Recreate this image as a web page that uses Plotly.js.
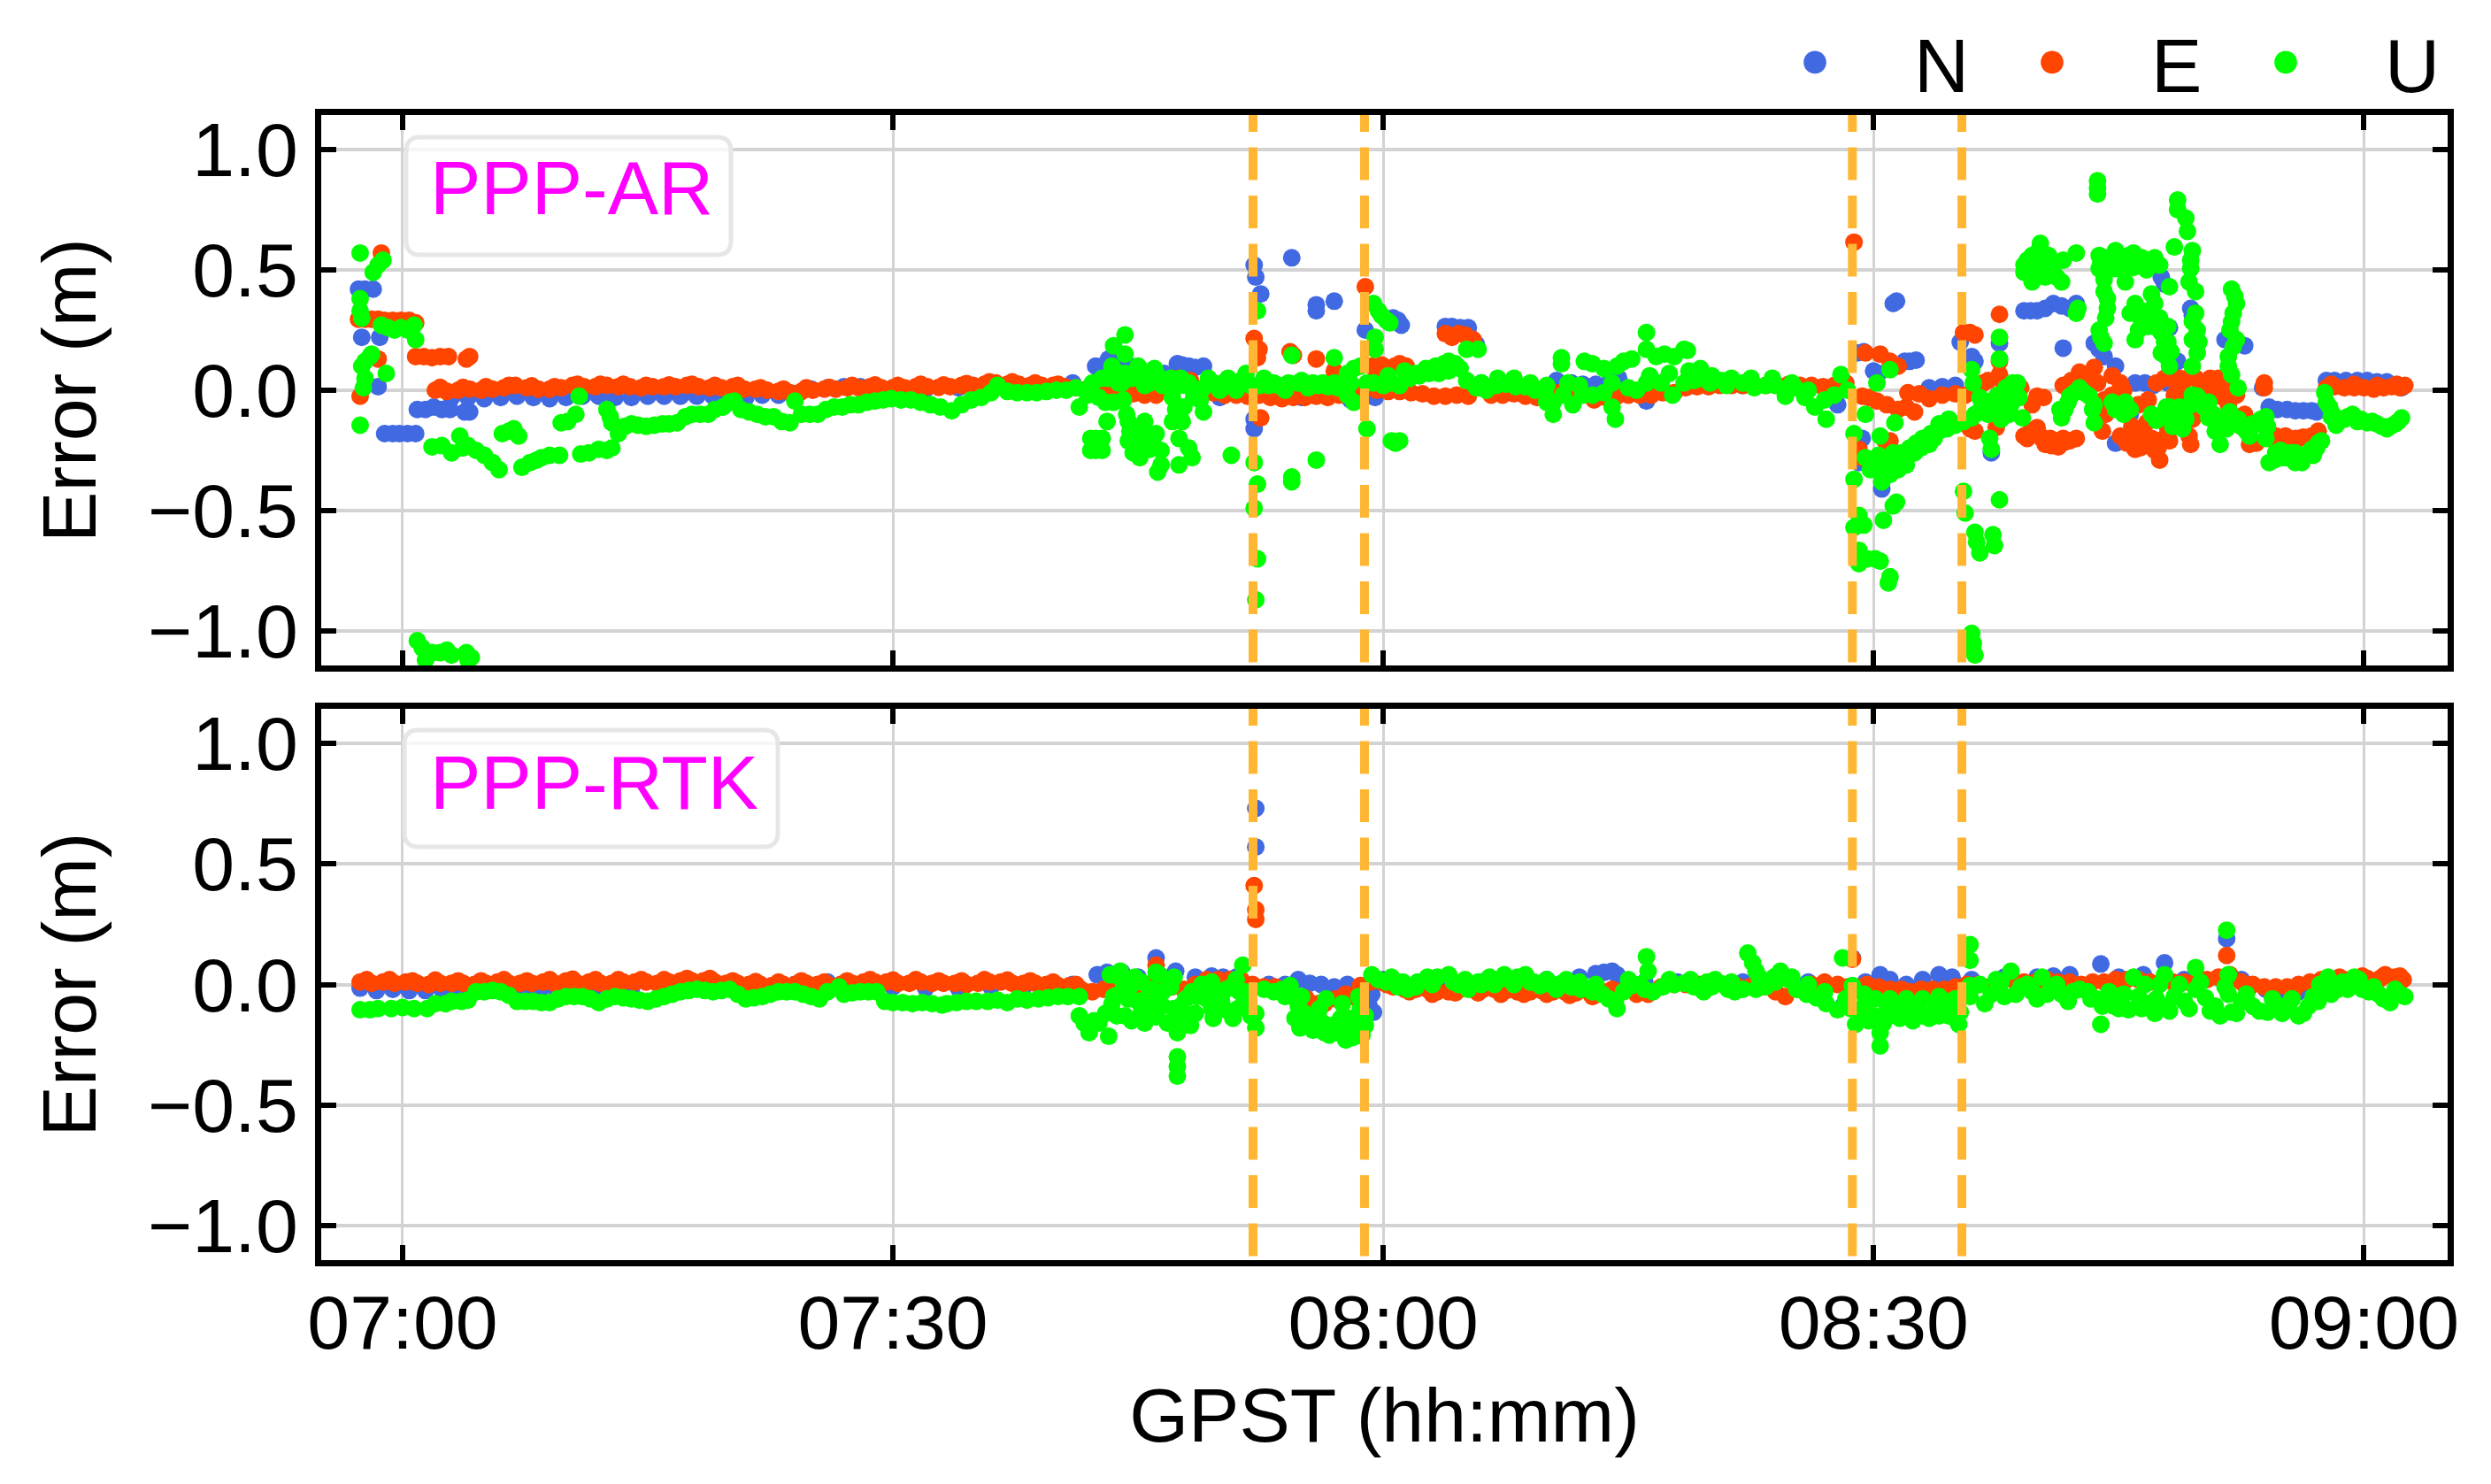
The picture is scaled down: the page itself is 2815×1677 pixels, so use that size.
<!DOCTYPE html>
<html><head><meta charset="utf-8">
<script src="https://cdn.plot.ly/plotly-3.0.1.min.js"></script>
<style>html,body{margin:0;padding:0;background:#fff}</style></head>
<body><div id="chart" style="width:2815px;height:1677px"></div>
<script>
// time is minutes after 07:00, errors are metres: [minute, error]
const tickMinutes=[0,30,60,90,120];
const tickLabels=['07:00','07:30','08:00','08:30','09:00'];
const errorTicks=[-1,-0.5,0,0.5,1];
const eventMinutes=[52.03,58.85,88.7,95.4];
const seriesNames=['N','E','U'];
const seriesColors=['#4169E1','#FF4500','#00FF00'];

const arN=[[-2.7,.42],[-2.3,.42],[-1.8,.42],[-2.5,.22],[-1.4,.22],[-1.5,.015],[-1.1,-.18],[-.6,-.18],[-.2,-.18],[.3,-.18],[.8,-.18],[.9,-.08],[1.4,-.08],[1.9,-.07],[2.4,-.08],[2.9,-.08],[3.8,-.09],[4.1,-.09],
[3,-.03],[4,-.03],[5,-.035],[6,-.03],[7,-.025],[8,-.03],[9,-.035],[10,-.03],[11,-.025],[12,-.025],[13,-.03],[14,-.03],[15,-.025],[16,-.025],[17,-.025],[18,-.025],[19,-.025],[20,-.03],[21,-.03],[22,-.02],[23,-.02],[24,-.015],[25,.005],[26,.01],[27,.015],[28,.015],[29,.015],[30,.01],[32,.005],[34,.01],[36,.01],[38,.015],[40,.02],[41,.03],
[42.4,.1],[42.8,.1],[43.2,.13],[43.6,.12],[44.5,.1],[45,.09],[46.6,.07],[47.4,.11],[47.7,.105],[48.1,.1],[48.5,.095],[49,.1],
[50,-.03],[52.1,.52],[52.2,.47],[52.5,.4],[54.4,.55],[55.9,.355],[55.9,.33],[57,.37],[52.1,-.16],[52.1,-.12],[58.9,.25],[60.6,.3],[60.9,.29],[61.1,.27],[63.8,.265],[64.2,.265],[64.7,.26],[65.2,.26],[65.7,.19],[55,-.03],[58,-.04],[59.5,-.03],
[66,.03],[68,.02],[70.6,.04],[71.5,.03],[72.2,.025],[73,.025],[73.8,.03],[74.4,.05],[76.1,-.045],[77,.03],[79,.02],[82,.02],[85,.02],[87.8,-.06],
[89,.155],[89.4,.16],[90,.08],[90.3,.07],[91.2,.36],[91.4,.37],[91.9,.12],[92.2,.12],[92.6,.125],[93.4,.01],[94.2,.015],[95,.02],[95.3,.2],[96,.14],[96.2,.12],[89.3,-.2],[89.1,-.3],[90.5,-.41],[97.2,-.26],[97.7,.195],
[99.2,.33],[99.6,.33],[100,.33],[100.5,.34],[101,.36],[101.5,.35],[102,.34],[102.4,.36],[101.6,.175],[103.5,.195],[103.8,.17],[104.1,.14],[104.8,.1],[106,.03],[106.6,.03],[107.1,.02],[107.6,.47],[107.8,.44],[108.1,.26],[109.4,.34],[109.5,.31],[112.7,.185],[111.5,.21],[111.9,.2],[108.6,.12],[105.7,-.1],[104.8,-.22],[108,.03],[110,.02],[113.8,.01],[114.2,-.07],[114.7,-.08],[115.3,-.08],[115.8,-.085],[116.3,-.085],[116.8,-.085],[117.1,-.09],[117.7,.04],[118.2,.04],[118.9,.04],[119.6,.04],[120.2,.04],[120.8,.035],[121.4,.035],[122.3,.01]];

const arE=[[-2.6,-.025],[-2.7,.295],[-2.3,.295],[-1.9,.295],[-1.5,.295],[-1.3,.57],[-1.5,.13],[-1.1,.29],[-.6,.29],[-.1,.29],[.4,.29],[.8,.28],[.8,.14],[1.3,.14],[1.8,.135],[2.3,.14],[2.8,.14],[3.9,.13],[4.1,.14],
[2,0],[2.7,-.005],[3.4,0],[4.1,.005],[4.8,0],[5.5,.005],[6.2,.01],[6.9,.02],[7.6,.01],[8.3,.005],[9,.005],[9.7,.01],[10.4,.02],[11.1,.015],[11.8,.015],[12.5,.02],[13.2,.015],[13.9,.015],[14.6,.01],[15.3,.015],[16,.015],[16.7,.015],[17.4,.02],[18.1,.015],[18.8,.01],[19.5,.01],[20.2,.015],[20.9,.005],[21.6,.005],[22.3,.0],[23,-.005],[23.7,-.01],[24.4,-.005],[25.1,0],[25.8,.005],[26.5,.005],[27.2,.01],[27.9,.01],[28.6,.015],[29.3,.01],[30,.01],[30.7,.01],[31.4,.015],[32.1,.015],[32.8,.012],[33.5,.015],[34.2,.02],[34.9,.02],[35.6,.025],[36.3,.03],[37,.025],[37.7,.025],[38.4,.02],[39.1,.02],[39.8,.02],[40.5,.015],[41.2,.01],[41.9,.005],[42.6,.01],[43.3,0],[44,-.01],[44.7,-.015],[45.4,-.02],[46.1,-.02],[46.8,.03],[47.5,.05],[48.2,.04],[48.9,-.005],[49.6,-.01],[50.3,-.02],[51,-.02],[51.7,-.025],[52.1,.215],[52.3,.135],[52.4,.17],[52.5,-.115],[54.3,.16],[54.5,.145],[55.9,.13],[57,.08],[58.9,.43],[52.4,-.02],[53.1,-.03],[53.8,-.035],[54.5,-.03],[55.2,-.03],[55.9,-.025],[56.6,-.03],[57.3,-.02],[58,-.01],[58.7,.01],[59.3,.1],[59.6,.06],[59.9,.105],[60.3,.09],[60.7,.1],[61,.11],[61.4,.1],[59.6,0],[60.3,-.005],[61,-.005],[61.7,-.01],[62.4,-.015],[63.1,-.025],[63.8,-.025],[64.5,-.02],[65.2,-.025],[63.8,.235],[64.2,.22],[64.6,.235],[65,.23],[65.5,.21],[65.9,.01],[66.6,-.02],[67.3,-.02],[68,-.015],[68.7,-.025],[69.4,-.03],[70.1,-.025],[70.8,-.01],[71.5,-.01],[72.2,-.015],[72.9,-.04],[73.6,-.03],[74.3,-.025],[75,-.02],[75.7,-.02],[76.4,-.02],[77.1,-.01],[77.8,-.01],[78.5,.01],[79.2,.015],[79.9,.015],[80.6,.02],[81.3,.02],[82,.02],[82.7,.02],[83.4,.02],[84.1,.02],[84.8,.025],[85.5,.02],[86.2,.02],[86.9,.015],[87.6,.02],[88.3,.03],
[88.8,.615],[89.5,.155],[90.4,.15],[91,.12],[91.5,.1],[89.3,-.025],[89.7,-.03],[90.2,-.045],[90.8,-.06],[91.5,-.08],[92,-.07],[92.5,-.09],[92.1,-.01],[92.8,-.015],[93.4,-.035],[94.2,-.02],[95,-.015],[95.6,-.02],[89.1,-.245],[89.3,-.28],[91,-.21],[90.7,-.21],[95.5,.24],[95.9,.24],[96.2,.23],[97.7,.315],[97.7,.12],[97.7,.065],[96.7,.03],[96.2,-.17],[95.9,-.16],[97.5,-.155],[97,.04],[98,.02],[99,.01],[99.7,-.06],[100,-.025],[100.4,-.03],
[99.2,-.19],[99.6,-.17],[100,-.155],[100.3,-.2],[100.5,-.225],[100.9,-.23],[101.3,-.235],[101.7,-.215],[102.4,-.2],[101.6,.02],[102.1,.04],[102.6,.075],[103,.05],[103.5,.095],[103.7,.03],[104,-.17],[104.1,-.04],[104.6,.06],[105.1,.03],[105.1,-.19],[105.5,-.22],[106,-.245],[106.4,-.17],[106.7,-.135],[107.2,-.25],[107.5,-.29],[107.8,-.2],[108.1,-.21],[108.4,-.15],[109.4,-.225],[109.3,-.19],[107.3,.03],[107.8,.05],[108.2,.05],[108.7,.05],[109.2,.05],[109.7,.05],[106.2,-.06],[106.8,-.04],[108.4,-.02],[109,-.07],[110.2,.03],[110.6,.05],[111.1,.05],[111.5,.05],[111.7,-.06],[112.2,-.02],[112.7,-.1],[113,-.225],[113.4,-.22],[113.9,.01],[113.9,.03],[114.2,-.2],[114.6,-.19],[115.2,-.19],[115.8,-.2],[116.3,-.195],[116.8,-.19],[117.2,-.17],
[117.7,.01],[118.2,.015],[118.8,.01],[119.4,.01],[120,.01],[120.6,.005],[121.2,.01],[121.7,.015],[122.2,.01],[122.5,.02],
[99.4,-.2],[100.2,-.19],[100.8,-.2],[101.6,-.2],[102,-.21],[104.2,-.1],[104.6,-.02],[105,-.05],[105.3,.0],[105.8,-.15],[106,-.2],[106.3,-.24],[106.6,-.22],[107,-.2],[107.4,-.24],[108,-.16],[108.5,-.05],[108.8,0],[109.2,-.03],[109.5,-.12],[110,0],[110.5,-.03],[111,0],[111.4,-.03],[112,.0],[112.5,-.15],[114.9,-.2],[115.5,-.21],[116,-.2],[116.6,-.2],
[2.3,.012],[3.7,.012],[5.1,.015],[6.5,.02],[7.9,.018],[9.3,.015],[10.7,.025],[12.1,.025],[13.5,.025],[14.9,.02],[16.3,.022],[17.7,.025],[19.1,.02],[20.5,.02],[21.9,.01],[23.3,.005],[24.7,.01],[26.1,.012],[27.5,.02],[28.9,.022],[30.3,.02],[31.7,.025],[33.1,.022],[34.5,.028],[35.9,.035],[37.3,.035],[38.7,.03],[40.1,.025],[118,.025],[119.4,.025],[120.8,.02],[122,.025]];

const arU=[[-2.6,.57],[-1.8,.49],[-1.5,.52],[-1.2,.54],[-2.6,.38],[-2.6,.33],[-2.5,.3],[-2.5,.1],[-2.3,.12],[-2,.14],[-1.9,.15],[-2.3,.05],[-2.4,.01],[-2.6,-.145],[-1,.07],[-1.3,.27],[-.9,.26],[-.5,.25],[-.1,.26],[.3,.25],[.7,.27],[.8,.21],
[.9,-1.04],[1.2,-1.07],[1.4,-1.12],[1.8,-1.09],[2.3,-1.09],[2.7,-1.08],[3,-1.1],[3.9,-1.09],[4,-1.12],[4.2,-1.11],
[1.8,-.235],[2.4,-.23],[3,-.26],[3.5,-.19],[3.7,-.24],[4,-.23],[4.5,-.25],[5,-.27],[5.5,-.3],[5.9,-.33],[6.1,-.18],[6.5,-.17],[6.8,-.16],[7.1,-.19],[7.3,-.32],[7.8,-.3],[8.2,-.29],[8.5,-.28],[9,-.27],[9.6,-.27],[9.7,-.135],[10.1,-.13],[10.6,-.1],[10.8,-.025],[10.9,-.265],[11.4,-.26],[12,-.245],[12.5,-.25],[12.8,-.24],[12.5,-.08],[12.7,-.11],[12.8,-.135],[13.2,-.18],[13.6,-.15],[14,-.14],[14.4,-.145],[14.9,-.15],[15.4,-.145],[15.9,-.14],[16.3,-.14],[16.8,-.135],[17.3,-.11],[17.7,-.1],[18.2,-.1],[18.7,-.1],[19.1,-.08],[19.6,-.07],[20,-.05],[20.3,-.045],[20.7,-.08],[21.2,-.09],[21.7,-.1],[22.2,-.11],[22.7,-.11],[23.2,-.13],[23.7,-.135],[24,-.045],[24.4,-.1],[24.9,-.1],[25.4,-.1],[25.9,-.08],[26.4,-.07],[26.9,-.07],[27.4,-.06],[27.9,-.06],[28.4,-.05],[28.9,-.045],[29.4,-.04],[29.9,-.035],[30.5,-.04],[31.1,-.04],[31.7,-.05],[32.3,-.06],[32.9,-.07],[33.6,-.085],[34.2,-.06],[34.8,-.04],[35.4,-.03],[36,-.01],[36.4,.02],[37,-.005],[37.6,-.01],[38.2,-.01],[38.8,-.01],[39.4,-.005],[40,0],[40.6,0],[41.2,.01],[41.4,-.07],[41.9,-.02],[42.1,-.2],[42.1,-.25],[42.8,-.2],[42.8,-.25],[42.4,-.2],[42.4,-.25],[42.6,-.03],[43.1,-.13],[43.2,.05],[43.5,.185],[43.5,-.05],[43.6,.08],[44.2,.23],[44.2,.15],[44,.03],[44.1,-.04],[44.3,-.1],[44.5,-.17],[44.7,-.21],[44.9,.08],[45,-.2],[45.4,-.13],[45.4,.02],[45.6,.05],[46.1,-.18],[45.7,-.245],[46.4,-.31],[46.2,-.34],[46.2,.06],[46.8,.04],[47.1,-.13],[47.1,-.03],[47.5,-.2],[47.5,-.31],[47.6,.05],[47.8,-.07],[48.1,-.24],[48.1,.03],[48.3,-.28],[48.6,-.03],[49,-.09],[49,.01],[49.6,.03],[50.2,.03],[50.7,-.27],[50.8,.02],[51.3,.04],[51.6,.07],[51.9,.02],[52.1,-.3],[52.3,-.39],[52.4,.02],[52.3,.33],[52.3,-.7],[52.2,-.87],[52.1,-.49],[53,.02],[53.6,.02],[54.2,.03],[54.4,.145],[54.4,-.38],[54.4,-.36],[54.8,.03],[55.4,.01],[55.9,-.29],[56,.02],[56.6,.015],[57,.135],[57.2,.01],[57.8,-.02],[58.2,-.05],[58.2,.09],[57.8,.07],[58.6,.1],[59,-.16],[59.4,.36],[59.7,.33],[59.9,.31],[60.2,.29],[60.4,.28],[59.5,.22],[59.5,.17],[59.4,.03],[60,.02],[60.75,-.22],[60.5,-.21],[61,-.21],[60.5,.03],[61,.02],[61.6,.05],[62.2,.06],[62.8,.07],[63.4,.07],[64,.12],[64,.08],[64.7,.09],[65.1,.17],[65.1,.04],[65.8,.17],[65.7,.01],[66.3,.0],[66.9,.02],[67.5,.025],[68.1,.015],[68.7,.015],[69.3,.0],[69.9,-.01],[70.4,-.1],[70.4,-.05],[70.9,.135],[70.9,.11],[71,-.02],[71.6,-.06],[72.3,.12],[72.2,-.02],[72.8,.11],[72.8,-.02],[73.5,.09],[73.5,-.01],[74.2,-.12],[74,-.07],[74.3,.1],[74.7,.12],[75.2,.13],[75.5,.0],[76.1,.24],[76.1,.17],[76.1,.03],[76.7,.14],[77.2,.15],[77,.03],[77.8,.14],[77.7,-.02],[78.4,.17],[78.4,.03],[78.6,.165],[79,.04],[79.5,.05],[80.1,.06],[80.7,.04],[81.3,.05],[82,.03],[82.7,.01],[83.4,.02],[84,.02],[84.6,-.025],[85.2,.01],[85.8,-.03],[86.4,-.07],[87.1,-.12],[87.6,-.02],[88,.065],[88.4,0],
[88.8,-.18],[88.8,-.37],[89.1,-.52],[88.8,-.57],[89.1,-.665],[89.1,-.72],[90.1,-.7],[90.4,-.71],[91,-.775],[90.9,-.8],[90.6,-.54],[91.2,-.48],[91.4,-.465],[89.5,-.1],[90.4,-.19],[90.2,.03],[91,.085],[91.3,-.135],[89.6,-.7],[89.4,-.56],[89.5,-.28],
[90,-.3],[90.4,-.33],[90.7,-.345],[91.1,-.32],[91.5,-.3],[92,-.28],[92.5,-.26],[92.9,-.24],[93.4,-.225],[93.7,-.2],[94,-.17],[94.5,-.16],[95,-.145],[95.5,-.13],[96,-.115],[95.5,-.42],[95.6,-.51],[96.2,-.59],[96.5,-.675],[96.3,-.63],[97.3,-.6],[97.4,-.645],[97.7,-.455],[97.2,-.245],[97.1,-.2],[97.7,.22],[97.7,.13],[96,.085],[96.1,.03],[96,-1.01],[96.1,-1.085],[96.2,-1.1],[96.1,-1.05],[96.2,-.1],[96.6,-.07],[97.2,-.045],[97.6,-.02],[98.1,.01],[98.5,.03],[98.8,.03],[99.1,-.115],[98.9,-.03],
[99.2,.52],[99.2,.49],[99.5,.5],[99.7,.56],[99.7,.45],[100,.55],[100.2,.61],[100.3,.52],[100.5,.47],[100.7,.56],[101,.49],[101.5,.45],[101.6,.54],[102.4,.57],[102.4,.32],[102.5,.34],[103.7,.87],[103.7,.815],[103.7,.84],
[103.8,.56],[103.8,.505],[104.3,.55],[104.3,.5],[104.8,.58],[104.8,.505],[105.3,.54],[105.9,.57],[105.9,.51],[106.4,.55],[106.8,.54],[107.2,.55],[107.5,.52],[108.4,.595],[104.1,.46],[104.1,.41],[104.3,.34],[104.3,.38],[103.8,.25],[104.1,.195],[103.9,.22],[105.4,.45],[106,.36],[105.7,.32],[106.4,.285],[106,.21],[106.2,.25],[106.8,.265],[107,.4],[107.2,.36],[107.5,.3],[107.6,.24],[108,.265],[108.1,.43],[108,.2],[107.6,.155],[108.1,.1],[107.9,.14],[108.6,.79],[108.6,.75],[109.1,.715],[109.2,.66],[109.5,.58],[109.4,.505],[109.3,.45],[109.7,.41],[109.4,.54],[109.5,.285],[109.5,.21],[109.8,.155],[109.5,.1],[109.8,.25],[111.9,.42],[112.2,.36],[111.9,.285],[112.2,.21],[111.7,.14],[111.9,.065],[112.3,.01],[112.1,.39],[112,.32],[111.8,.25],[112,.18],[111.7,.1],
[101.5,-.115],[101.7,-.08],[102,-.025],[102.6,.01],[103.2,-.025],[103.4,-.08],[103.5,-.135],[104.6,-.05],[105.1,-.08],[105.3,-.1],[107,-.1],[107.3,-.125],[107.9,-.07],[108.6,-.115],[108.9,-.16],[109.4,-.06],[109.8,-.025],[110.2,-.07],[110.5,-.115],[110.9,-.17],[111.2,-.225],[111.6,-.16],[112,-.115],[112.5,-.15],[113,-.19],[113.5,-.14],[114,-.11],[114,-.2],
[114.2,-.3],[114.6,-.26],[115.2,-.28],[115.5,-.26],[115.8,-.3],[116.3,-.27],[116.8,-.245],[117.2,-.22],[117.4,-.21],[117.6,-.01],[117.9,-.07],[118.1,-.1],[118.3,-.145],[118.8,-.12],[119.3,-.1],[119.8,-.12],[120.2,-.135],[120.8,-.14],[121.4,-.16],[121.9,-.14],[122.3,-.115],
[42.2,.03],[42.8,.05],[43,-.05],[43.4,.1],[43.8,.03],[44.2,.07],[44.6,.05],[45,.1],[45.3,.08],[45.7,.03],[46,.09],[46.5,.02],[47,.05],[47.4,.02],[47.3,-.08],[47.7,-.13],[47.9,.02],[48.4,-.03],[48.8,-.04],[49.3,.05],[50,.0],[50.5,.05],[51,.0],[44.4,-.13],[44.8,-.16],[45.2,-.24],[45.7,-.19],[45.9,-.22],[46.4,-.25],[44.4,-.21],[44.7,-.26],[45.1,-.28],
[52.7,.05],[53.3,.03],[54,.0],[55,.04],[55.7,.03],[56.3,.03],[57,.03],[58,.03],[59,.03],[60.3,.06],[61.3,.08],[62,.07],[62.6,.09],[63.2,.1],[63.7,.11],[64.4,.11],[66,.03],[67,.05],[68,.05],[69,.03],[70,.02],[70,-.05],[71.3,.03],[72,.02],[74,.03],[75,.01],[76.3,.06],[77.5,.07],[78.7,.08],[79.4,.09],[80,.03],[81,.02],[82.5,.05],[83.8,.05],[85,.03],[86,.0],[87,-.04],
[89.8,-.33],[90.3,-.27],[90.8,-.28],[91.2,-.26],[91.7,-.26],[92.2,-.24],[92.6,-.22],[93,-.2],[93.5,-.18],[94,-.14],[94.6,-.12],[90.5,-.38],[91,-.35],[91.5,-.33],[92,-.31],[96.5,-.03],[97,-.1],[97.5,-.06],[97.8,-.12],[98,-.04],[98.4,-.06],[98.3,-.1],[98.7,-.02],
[101.4,-.08],[101.9,-.05],[102.3,-.01],[102.9,-.01],[103.5,-.06],[104.8,-.08],[105.4,-.05],[105.7,-.08],[107.7,-.1],[108.1,-.07],[108.3,-.15],[108.7,-.07],[109.1,-.12],[109.5,-.02],[110,-.05],[110.5,-.05],[110.8,-.1],[111.4,-.13],[111.8,-.09],[112.3,-.12],[112.8,-.17],[113.2,-.14],[113.7,-.12],[114.1,-.15],[114.5,-.29],[115,-.28],[115.8,-.26],[116.2,-.3],[116.9,-.27],[117.1,-.24],[114.9,-.25],[117.7,-.05],[118,-.11],[118.5,-.12],[119,-.11],[119.6,-.13],[120.5,-.13],[121.1,-.15],[121.6,-.15],[122.1,-.13],
[99.4,.54],[99.9,.5],[100.1,.58],[100.6,.5],[100.9,.53],[101.2,.47],[103.9,.53],[104.5,.53],[105,.54],[105.5,.52],[105.6,.56],[106.2,.53],[106.7,.5],[107,.52],[104.2,.3],[106.4,.33],[107.1,.3],[107.3,.26],[107.8,.2],[108.2,.16],[109.7,.32],[109.9,.2]];

const rtkN=[[-2.6,-.015],[-1.6,-.025],[-.6,-.02],[.4,-.025],[1.4,-.025],[2.4,-.02],[3.4,-.02],[4.4,-.025],[5.4,-.02],[6.4,-.02],[7.4,-.02],[8.4,-.025],[9.4,-.02],[10.4,-.02],[12,-.02],[14,-.02],[16,-.02],[18,-.01],[20,-.015],[22,-.01],[24,0],[26,.01],[28,.0],[30,-.01],[32,-.015],[34,-.015],[36,-.01],[38,-.01],[40,-.01],[41,.0],[42.5,.04],[43.1,.05],[44,.05],[45,.03],[46.1,.11],[46.5,.03],[47.3,.055],[48.5,.03],[49.5,.035],[50.2,.03],[51,.03],[52.2,.73],[52.2,.57],[53,.0],[54,.0],[54.8,.02],[55.5,.005],[56.2,.0],[57,-.01],[57.8,0],[58.5,-.02],[59.1,-.08],[59.4,-.115],[59.3,-.04],[60,.02],[62,.0],[64,.01],[66,.01],[68,.01],[70,.02],[72,.03],[73,.045],[73.5,.05],[74,.055],[74.3,.04],[76,.01],[78,.01],[80,.01],[82,.01],[84,.01],[86,.01],[88.1,-.09],[88.7,.11],[89.5,.01],[90.4,.04],[91,.02],[92,0],[93,.02],[94,.04],[94.8,.03],[96,.02],[98,.03],[100,.03],[101,.035],[102,.04],[103.9,.085],[105,.03],[106.5,.04],[107.8,.09],[109,.02],[110,.02],[111.6,.19],[112.5,.02],[114,-.02],[115,-.03],[116,-.03],[117,.0],[118,.01],[120,.02],[122,.02]];

const rtkE=[[-2.6,.01],[-1.9,.005],[-1.2,.01],[-.5,.005],[.2,.01],[.9,.005],[1.6,0],[2.3,.005],[3,.005],[3.7,.005],[4.4,.0],[5.1,.005],[5.8,.01],[6.5,.005],[7.2,.005],[7.9,.005],[8.6,.01],[9.3,.005],[10,.015],[10.7,.005],[11.4,.01],[12.1,.005],[12.8,.005],[13.5,.01],[14.2,.01],[14.9,.01],[15.6,.005],[16.3,.01],[17,.015],[17.7,.015],[18.4,.015],[19.1,.01],[19.8,.005],[20.5,.005],[21.2,.0],[21.9,0],[22.6,-.005],[23.3,0],[24,0],[24.7,.005],[25.4,0],[26.1,-.005],[26.8,0],[27.5,.005],[28.2,.01],[28.9,.01],[29.6,.01],[30.3,.005],[31,.005],[31.7,.01],[32.4,.005],[33.1,.005],[33.8,.005],[34.5,.0],[35.2,.005],[35.9,.01],[36.6,.01],[37.3,.005],[38,.005],[38.7,.005],[39.4,.0],[40.1,-.005],[40.8,-.005],[41.5,-.02],[42.2,-.03],[42.9,-.02],[43.6,.02],[44.3,0],[45,-.01],[45.7,.0],[46.1,.08],[46.4,.02],[47.1,-.01],[47.8,-.02],[48.5,.0],[49.2,.02],[49.9,.02],[50.6,.02],[51.3,.02],[52,.0],[52.1,.41],[52.2,.31],[52.2,.27],[52.7,-.01],[53.4,-.01],[54.1,-.03],[54.6,-.055],[55.3,-.06],[56,-.08],[56.4,-.08],[57.1,-.06],[57.7,-.04],[58.2,-.05],[58.6,-.005],[59.2,.01],[59.9,.01],[60.6,-.01],[61.3,-.02],[62,-.02],[62.7,-.02],[63.3,-.03],[64,-.03],[64.7,-.02],[65.4,-.02],[66.1,-.02],[66.8,-.02],[67.5,-.025],[68.2,-.03],[69,-.03],[69.7,-.025],[70.4,-.03],[71.1,-.03],[71.8,-.035],[72.7,-.04],[73.4,-.03],[74,-.02],[74.8,-.02],[75.5,-.04],[76.2,-.04],[77,-.01],[77.8,0],[78.5,.0],[79.3,0],[80,0],[80.8,.0],[81.6,-.005],[82.4,-.01],[83.2,-.01],[84,-.03],[84.6,-.05],[85.4,-.02],[86.2,.0],[87,.01],[87.8,.0],[88.4,-.01],[88.7,.105],[89.2,-.01],[89.6,0],[90.3,-.01],[91,-.02],[91.7,-.02],[92.2,-.03],[92.9,-.02],[93.6,-.02],[94.3,-.02],[95,-.01],[95.7,0],[96.4,.0],[97.1,-.01],[97.8,.01],[98.5,.02],[99.2,.01],[99.9,.01],[100.6,.02],[101.3,.01],[102,.01],[102.7,.0],[103.4,.01],[104.1,.01],[104.8,.02],[105.5,.02],[106.2,.02],[106.9,.01],[107.6,.01],[108.3,.01],[109,.01],[109.7,.01],[110.4,.02],[111.1,.03],[111.6,.12],[111.8,.04],[112.5,.01],[113.2,0],[113.9,-.01],[114.6,-.01],[115.3,-.01],[116,.0],[116.7,.01],[117.4,.02],[118.1,.02],[118.8,.02],[119.5,.02],[120.2,.025],[120.9,.02],[121.3,.04],[121.9,.03],[122.4,.02],
[-2.2,.02],[-.8,.02],[.6,.015],[2,.018],[3.4,.015],[4.8,.015],[6.2,.02],[7.6,.015],[9,.02],[10.4,.022],[11.8,.02],[13.2,.02],[14.6,.02],[16,.02],[17.4,.025],[18.8,.025],[20.2,.015],[21.6,.012],[23,.01],[24.4,.015],[25.8,.01],[27.2,.015],[28.6,.02],[30,.018],[31.4,.02],[32.8,.015],[34.2,.015],[35.6,.02],[37,.018],[38.4,.015],[39.8,.01],[41.2,.0],[60.2,.0],[61.6,-.03],[63,-.04],[64.4,-.035],[65.8,-.035],[67.2,-.04],[68.6,-.04],[70,-.04],[71.4,-.045],[72.8,-.05],[112.9,-.02],[114.3,-.025],[115.7,-.025],[117.1,.005],[118.5,.03],[119.9,.035],[121.1,.03],[122.2,.035]];

const rtkU=[[-2.6,-.105],[-2,-.105],[-1.5,-.1],[-.7,-.1],[0,-.095],[.7,-.1],[1.5,-.1],[2,-.08],[2.6,-.08],[3,-.07],[3.6,-.07],[4,-.065],[4.5,-.03],[5,-.03],[5.5,-.025],[6,-.03],[6.5,-.045],[7,-.07],[7.5,-.07],[8,-.07],[8.5,-.075],[9,-.075],[9.5,-.06],[10,-.05],[10.5,-.05],[11,-.05],[11.5,-.06],[12,-.075],[12.5,-.06],[13,-.05],[13.5,-.055],[14,-.06],[14.5,-.065],[15,-.07],[15.5,-.06],[16,-.05],[16.5,-.04],[17,-.03],[17.5,-.025],[18,-.02],[18.5,-.025],[19,-.03],[19.5,-.025],[20,-.02],[20.5,-.04],[21,-.06],[21.5,-.055],[22,-.05],[22.5,-.04],[23,-.03],[23.5,-.03],[24,-.03],[24.5,-.04],[25,-.05],[25.5,-.06],[26,-.03],[26.7,-.01],[27,-.04],[27.5,-.035],[28,-.03],[28.5,-.03],[29,-.03],[29.5,-.07],[30,-.075],[30.6,-.075],[31.2,-.08],[31.8,-.075],[32.4,-.08],[33,-.085],[33.3,-.08],[33.9,-.075],[34.5,-.07],[35.1,-.07],[35.8,-.07],[36.4,-.065],[37,-.075],[37.6,-.06],[38.2,-.065],[38.9,-.06],[39.5,-.055],[40.1,-.05],[40.7,-.05],[41.4,-.05],[41.4,-.13],[41.7,-.16],[42,-.2],[42.3,-.15],[43.2,-.215],[43.3,.04],[43.5,-.05],[43.9,.055],[44,-.03],[44.2,-.13],[44.5,-.01],[44.8,.03],[45.2,-.115],[45.2,.01],[45.6,-.05],[46.1,-.04],[46.1,-.135],[46.1,.05],[46.5,-.03],[47,-.01],[47.4,-.2],[47.4,-.14],[47.4,-.3],[47.4,-.38],[47.4,-.34],[47.6,-.09],[48,-.13],[48.3,-.03],[48.6,-.05],[49,-.03],[49.5,.01],[49.5,-.1],[50,-.04],[50.4,-.02],[50.8,-.005],[50.8,-.14],[51.2,-.03],[51.4,.08],[51.7,-.07],[52.2,-.18],[52.2,-.12],[52.7,-.02],[53.3,-.03],[53.8,-.02],[54.3,-.005],[54.6,-.14],[54.8,-.09],[55.2,-.12],[55.8,-.15],[56.1,-.1],[56.4,-.2],[56.9,-.17],[57.1,-.165],[57.7,-.23],[57.9,-.14],[58.3,-.165],[58.3,-.215],[58.6,-.1],[58.9,-.13],[58.9,-.17],[59.3,.04],[59.7,.02],[60.2,.01],[60.9,-.01],[61.5,-.02],[62.1,.01],[62.7,.03],[63.3,.03],[64,.04],[64.6,.0],[65.2,-.02],[65.8,.01],[66.5,.03],[67.1,.02],[67.7,.02],[68.2,.03],[68.7,.04],[69.2,.01],[69.6,-.005],[70.3,0],[70.9,.005],[71.5,-.01],[72.1,-.02],[72.8,-.03],[73.4,-.04],[73.8,-.06],[74.3,-.1],[74.2,-.07],[74.7,-.03],[75.2,-.005],[75.7,.0],[76.1,.115],[76.2,.055],[76.5,-.03],[77.1,-.01],[77.8,.0],[78.4,.005],[79,-.01],[79.6,-.03],[80.1,-.01],[80.6,.005],[81.1,-.02],[81.5,-.03],[82,-.02],[82.3,.13],[82.6,.09],[82.8,.055],[82.8,-.02],[83.4,-.01],[83.9,.03],[84.3,.055],[84.8,.02],[85.3,-.02],[85.9,-.04],[86.5,-.055],[87.1,-.08],[87.8,-.105],[88.1,.11],[88.3,-.06],[88.7,-.005],[88.9,-.165],[89.4,-.09],[90,-.13],[90.4,-.255],[90.4,-.2],[90.8,-.11],[91.4,-.11],[92.2,-.105],[92.8,-.11],[93.4,-.14],[93.9,-.09],[94.4,-.07],[94.9,-.1],[95.2,-.165],[95.3,-.115],[95.9,.165],[95.9,.1],[95.9,-.005],[95.9,-.05],[96.5,.0],[97.2,-.04],[97.8,.01],[98.4,.055],[99,-.01],[99.7,-.03],[100.3,.03],[100.9,-.02],[101.5,-.04],[102.2,-.03],[103.1,-.03],[103.6,-.06],[104,-.09],[103.9,-.165],[104.7,-.09],[105.6,-.105],[105.9,.03],[106.2,-.05],[106.8,-.08],[107.3,-.06],[107.8,.04],[107.8,-.09],[108.4,-.05],[109,-.07],[109.7,.07],[109.7,-.02],[110.3,-.055],[110.9,-.09],[111.6,.225],[111.7,.04],[111.7,-.04],[111.9,-.115],[112.5,-.07],[113.2,-.09],[114.1,-.115],[114.7,-.09],[115.4,-.08],[116,-.13],[116.6,-.09],[117.2,-.07],[117.5,-.03],[117.8,.03],[118.4,-.02],[119,-.02],[119.4,.03],[119.9,-.02],[120.3,-.03],[120.9,-.04],[121.6,-.075],[122.2,-.04],[122.5,-.05],
[42.6,-.16],[43,-.12],[43.4,-.08],[43.7,-.13],[44,.02],[44.4,-.06],[44.6,-.15],[45,-.07],[45.4,-.16],[45.8,-.02],[45.9,-.1],[46.3,.04],[46.5,-.09],[46.8,-.16],[47.2,.03],[47.2,-.1],[47.6,-.16],[47.9,-.06],[48.2,-.17],[48.5,-.12],[48.9,.0],[49.2,-.06],[49.6,-.14],[50.1,-.07],[50.5,-.11],[51,.02],[51.1,-.1],[51.5,-.03],[51.9,-.13],
[54.9,-.18],[55.3,-.16],[55.7,-.19],[56,-.13],[56.3,-.16],[56.7,-.21],[57.1,-.2],[57.4,-.14],[57.5,-.19],[57.9,-.2],[58.1,-.22],[58.5,-.16],[58.7,-.21],[54,-.05],[55,-.05],[56.5,-.06],[57.5,-.08],[58.5,-.05],
[88.6,-.1],[89.1,-.12],[89.7,-.15],[90.2,-.15],[90.6,-.16],[91,-.13],[91.6,-.14],[92,-.13],[92.4,-.15],[93,-.13],[93.6,-.12],[94,-.13],[94.6,-.13],[95,-.14],[89.4,-.04],[90.1,-.06],[91,-.06],[92,-.06],[93,-.06],[94,-.05],[95,-.06],
[96.8,-.08],[97.5,.02],[98,-.05],[98.7,-.04],[99.4,.0],[100,-.06],[100.6,-.04],[101.2,.0],[101.9,-.07],[102.6,-.02],[103.3,-.06],[104.4,-.03],[105,-.1],[105.3,-.04],[106.4,-.1],[106.6,0],[107.2,-.12],[107.5,.0],[108.1,-.11],[108.7,.0],[109.3,-.1],[110,.01],[110.6,-.11],[111.2,-.13],[111.5,-.01],[112.2,-.12],[112.8,-.04],[113.6,-.11],[114.4,-.06],[115,-.12],[115.6,-.06],[116.3,-.12],[116.9,-.05],[117.3,.0],[118,-.04],[118.7,.01],[119.7,.02],[120.6,-.01],[121.2,-.06],[121.9,-.02],
[60.5,.03],[61.2,.01],[62,-.01],[63,.0],[64.3,.01],[65,.02],[66,.0],[66.8,.0],[67.4,.04],[68,0],[69,.01],[70,.02],[70.6,-.02],[71.2,.02],[72,.01],[73,0],[75,.02],[76,-.02],[77.5,.02],[78.8,.02],[79.8,.01],[80.3,.02],[81.3,.01],[83,.03],[84,.01],[85,.03],[86,.0],[87,-.03]];

const W=2815,H=1677;
const panels=[{xa:'x',ya:'y',rows:[arN,arE,arU]},{xa:'x2',ya:'y2',rows:[rtkN,rtkE,rtkU]}];
const legendIds=['legend','legend2','legend3'];
const legendLeft=[1939,2207,2471];
const traces=[];
panels.forEach(p=>p.rows.forEach((rows,i)=>traces.push({
  type:'scatter',mode:'markers',xaxis:p.xa,yaxis:p.ya,name:seriesNames[i],showlegend:false,
  x:rows.map(r=>r[0]),y:rows.map(r=>r[1]),
  marker:{color:seriesColors[i],size:20,line:{width:0}},hoverinfo:'skip'})));
seriesNames.forEach((n,i)=>traces.push({type:'scatter',mode:'markers',xaxis:'x',yaxis:'y',name:n,x:[null],y:[null],
  showlegend:true,legend:legendIds[i],marker:{color:seriesColors[i],size:16}}));

const font={family:'"Liberation Sans",Arial,sans-serif',color:'#000',size:86};
const yMax=1.143;
function yAxis(dom){return {domain:dom,range:[-yMax,yMax],tickvals:errorTicks,ticktext:['−1.0','−0.5','0.0','0.5','1.0'],
  ticks:'inside',ticklen:17,tickwidth:6,tickcolor:'#000',mirror:'all',showline:true,linecolor:'#000',linewidth:7,
  showgrid:true,gridcolor:'#d3d3d3',gridwidth:4,zeroline:false,ticklabelstandoff:2,tickfont:font,
  title:{text:'Error (m)',font:font,standoff:32}};}
function xAxis(extra){return Object.assign({domain:[363/W,2766/W],range:[-4.98,125.12],tickvals:tickMinutes,ticktext:tickLabels,
  ticks:'inside',ticklen:17,tickwidth:6,tickcolor:'#000',mirror:'all',showline:true,linecolor:'#000',linewidth:7,
  showgrid:true,gridcolor:'#d3d3d3',gridwidth:3,zeroline:false,tickfont:font},extra);}

function box(x0,x1,ytop,ybot){const r=16,a=v=>v/W,b=v=>1-v/H;
  const f=(x,y)=>a(x)+' '+b(y);
  return {type:'path',xref:'paper',yref:'paper',layer:'above',fillcolor:'rgba(255,255,255,0.8)',line:{color:'#e6e6e6',width:5},
   path:'M'+f(x0+r,ytop)+' L'+f(x1-r,ytop)+' Q'+f(x1,ytop)+' '+f(x1,ytop+r)+' L'+f(x1,ybot-r)+' Q'+f(x1,ybot)+' '+f(x1-r,ybot)+' L'+f(x0+r,ybot)+' Q'+f(x0,ybot)+' '+f(x0,ybot-r)+' L'+f(x0,ytop+r)+' Q'+f(x0,ytop)+' '+f(x0+r,ytop)+' Z'};}
const shapes=[box(459,826,155,288),box(457,879,825,957)];
['y','y2'].forEach(ya=>eventMinutes.forEach(m=>shapes.push({type:'line',xref:ya==='y'?'x':'x2',yref:ya,x0:m,x1:m,y0:yMax+0.066,y1:-yMax,layer:'above',
  line:{color:'#FFB733',width:10,dash:'37px,17.5px'}})));

const layout={width:W,height:H,margin:{l:0,r:0,t:0,b:0,autoexpand:false},paper_bgcolor:'#fff',plot_bgcolor:'#fff',font:font,
  xaxis:xAxis({anchor:'y',matches:'x2',showticklabels:false}),
  yaxis:yAxis([1-752/H,1-130/H]),
  xaxis2:xAxis({anchor:'y2',ticklabelstandoff:-10,title:{text:'GPST (hh:mm)',font:font,standoff:30}}),
  yaxis2:yAxis([1-1424/H,1-801/H]),
  shapes:shapes,
  annotations:[
   {xref:'paper',yref:'paper',x:484/W,y:1-212/H,xanchor:'left',yanchor:'middle',text:'PPP-AR',showarrow:false,font:{family:font.family,size:86,color:'#FF00FF'}},
   {xref:'paper',yref:'paper',x:484/W,y:1-884/H,xanchor:'left',yanchor:'middle',text:'PPP-RTK',showarrow:false,font:{family:font.family,size:86,color:'#FF00FF'}}],
  showlegend:true};
legendIds.forEach((id,i)=>{layout[id]={orientation:'h',x:legendLeft[i]/W,xanchor:'left',y:1-8/H,yanchor:'top',bgcolor:'rgba(0,0,0,0)',font:font,
  itemwidth:214,itemsizing:'trace'};});
Plotly.newPlot('chart',traces,layout,{displayModeBar:false,staticPlot:true}).then(()=>{
  document.querySelectorAll('.legendpoints path.scatterpts').forEach(p=>{
    p.setAttribute('transform',(p.getAttribute('transform')||'')+' scale(1.6)');});
});
</script></body></html>
